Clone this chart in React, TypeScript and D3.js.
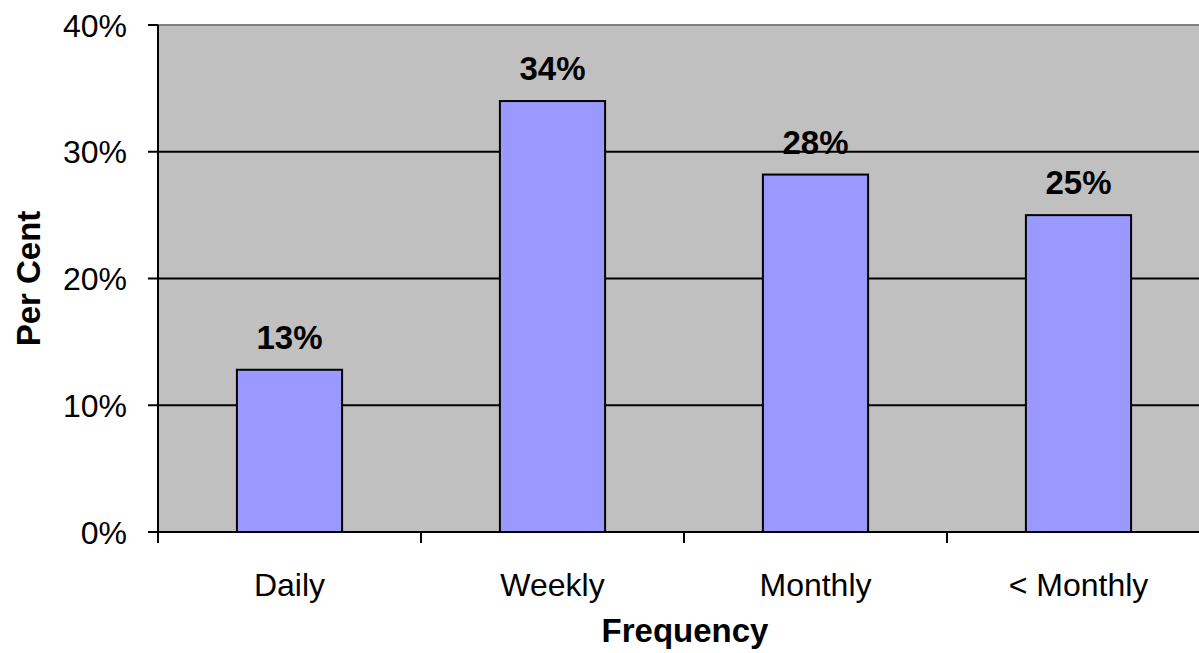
import React from "react";
import * as d3 from "d3";

const categories = ["Daily", "Weekly", "Monthly", "< Monthly"];
const values = [12.8, 34.0, 28.2, 25.0];
const valueLabels = ["13%", "34%", "28%", "25%"];
const yTicks = [0, 10, 20, 30, 40];

const W = 1199;
const H = 653;
const left = 158;
const right = 1210;
const top = 25;
const bottom = 532;
const font = "'Liberation Sans', Arial, sans-serif";

export default function App() {
  const x = d3.scaleBand<string>().domain(categories).range([left, right]).paddingInner(0.6).paddingOuter(0.3);
  const xOuter = d3.scaleBand<string>().domain(categories).range([left, right]);
  const y = d3.scaleLinear().domain([0, 40]).range([bottom, top]);
  const bw = x.bandwidth();
  const edges = categories.map((c) => xOuter(c)!);

  return (
    <svg width={W} height={H} style={{ position: "absolute", left: 0, top: 0, display: "block", background: "#fff" }}>
      <rect x={left} y={top} width={right - left} height={bottom - top} fill="#C0C0C0" />
      <line x1={left} x2={right} y1={top} y2={top} stroke="#808080" strokeWidth={2} />
      {yTicks.filter((t) => t > 0 && t < 40).map((t) => (
        <line key={t} x1={left} x2={right} y1={y(t)} y2={y(t)} stroke="#000" strokeWidth={2} />
      ))}
      {categories.map((c, i) => (
        <rect key={c} x={x(c)!} y={y(values[i])} width={bw} height={bottom - y(values[i])} fill="#9999FF" stroke="#000" strokeWidth={2} />
      ))}
      {categories.map((c, i) => (
        <text key={c} x={x(c)! + bw / 2} y={y(values[i]) - 21} textAnchor="middle" fontFamily={font} fontWeight="bold" fontSize={33} fill="#000">
          {valueLabels[i]}
        </text>
      ))}
      <line x1={left} x2={left} y1={top} y2={bottom} stroke="#000" strokeWidth={2} />
      <line x1={left - 10} x2={right} y1={bottom} y2={bottom} stroke="#000" strokeWidth={2} />
      {yTicks.map((t) => (
        <g key={t}>
          <line x1={left - 10} x2={left} y1={y(t)} y2={y(t)} stroke="#000" strokeWidth={2} />
          <text x={left - 31} y={y(t)} dy="0.36em" textAnchor="end" fontFamily={font} fontSize={32} fill="#000">
            {t}%
          </text>
        </g>
      ))}
      {edges.map((e, i) => (
        <line key={i} x1={e} x2={e} y1={bottom} y2={bottom + 11} stroke="#000" strokeWidth={2} />
      ))}
      {categories.map((c) => (
        <text key={c} x={xOuter(c)! + xOuter.bandwidth() / 2} y={596} textAnchor="middle" fontFamily={font} fontSize={32} fill="#000">
          {c}
        </text>
      ))}
      <text x={685} y={642} textAnchor="middle" fontFamily={font} fontWeight="bold" fontSize={33} fill="#000">
        Frequency
      </text>
      <text transform={`translate(40, ${(top + bottom) / 2}) rotate(-90)`} textAnchor="middle" fontFamily={font} fontWeight="bold" fontSize={33} fill="#000">
        Per Cent
      </text>
    </svg>
  );
}
